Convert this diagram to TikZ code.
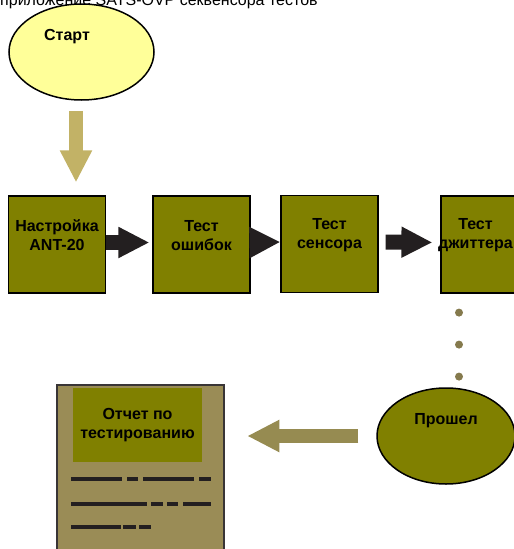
\documentclass[tikz,border=0pt]{standalone}
\usepackage{fontspec}
\setmainfont{Liberation Sans}
\usetikzlibrary{positioning,arrows.meta,shapes.geometric}
\definecolor{startyellow}{HTML}{FFFF99}
\definecolor{olivebox}{HTML}{808000}
\definecolor{khakiarrow}{HTML}{C2B266}
\definecolor{khakidark}{HTML}{968B51}
\definecolor{dotgray}{HTML}{857A4D}
\definecolor{reportfill}{HTML}{9A8C56}
\definecolor{darkarrow}{HTML}{231F20}

\begin{document}
\begin{tikzpicture}[
    x=1pt, y=-1pt,
    every node/.style = {font=\fontsize{16}{19}\selectfont\bfseries},
    oval/.style = {ellipse, draw=black, line width=1.5pt, inner sep=0pt,
                   minimum width=145pt, minimum height=96pt},
    stepbox/.style = {rectangle, draw=black, line width=1.2pt, fill=olivebox,
                      minimum width=97pt, minimum height=97pt, inner sep=0pt},
    boxtext/.style = {align=center, yshift=9pt},
    blockarrow/.style = {line width=15pt, darkarrow, -{Triangle[length=31pt, width=29pt]}},
    fatarrow/.style = {line width=14pt, -{Triangle[length=32pt, width=30pt]}},
    dotline/.style = {dotgray, line width=8pt, line cap=round, dash pattern=on 0pt off 32pt},
    textline/.style = {darkarrow, line width=4pt}
]
\useasboundingbox (0,0) rectangle (514,549);
\clip (0,0) rectangle (514,549);

% --- Caption (cut at the top) ---
\node[anchor=base west, inner sep=0pt, font=\fontsize{16}{19}\selectfont] (title) at (0,5.5)
    {приложение SATS-OVP секвенсора тестов};

% --- Start ---
\node[oval, fill=startyellow, label={[xshift=-14.5pt, yshift=15pt]center:Старт}] (start) at (81.5,52) {};

% --- Test steps (horizontal sequence) ---
\node[stepbox, label={[boxtext]center:{Настройка\\ANT-20}}] (setup) at (57,244.5) {};
\node[stepbox, label={[boxtext]center:{Тест\\ошибок}}] (errors) at (201.5,244.5) {};
\node[stepbox, label={[boxtext]center:{Тест\\сенсора}}] (sensor) at (329.5,244) {};
\node[stepbox, label={[boxtext, xshift=-14pt]center:{Тест\\джиттера}}] (jitter) at (489.5,244.5) {};

% --- Passed and report ---
\node[oval, fill=olivebox, minimum width=138pt, label={[yshift=15pt]center:Прошел}] (pass) at (446,436) {};
\node[rectangle, draw=darkarrow!90, line width=2.5pt, fill=reportfill,
      minimum width=167pt, minimum height=185pt] (report) at (140.5,477.5) {};
\node[fill=olivebox, minimum width=129pt, minimum height=74pt, align=center] (rtitle) at (137.5,425)
    {Отчет по\\тестированию};

% --- Arrows ---
\draw[fatarrow, khakiarrow, shorten <=10pt, shorten >=13pt]
    ([xshift=-5.5pt]start.south) -- ([xshift=-5.5pt]start.south |- setup.north);
\draw[blockarrow, shorten >=3pt] ([yshift=2pt]setup.east) -- ([yshift=2pt]errors.west);
\draw[blockarrow, shorten >=0pt] ([yshift=2pt]errors.east) -- ([yshift=2pt]sensor.west);
\draw[blockarrow, shorten <=7pt, shorten >=8pt] ([yshift=2pt]sensor.east) -- ([yshift=2pt]jitter.west);
\draw[dotline, shorten <=19pt, shorten >=10pt]
    ([xshift=13pt]pass.north |- jitter.south) -- ([xshift=13pt]pass.north);
\draw[fatarrow, khakidark, shorten <=18pt, shorten >=22pt] (pass.west) -- (pass.west -| report.east);

% --- Lines of the report ---
\foreach \y/\a/\b in {479/71/122, 479/127/138, 479/143/194, 479/199/211,
                      504/71/147, 504/151/163, 504/167/178, 504/183/211,
                      527/71/121, 527/123/136, 527/139/151}
    \draw[textline] (\a,\y) -- (\b,\y);

\end{tikzpicture}
\end{document}
